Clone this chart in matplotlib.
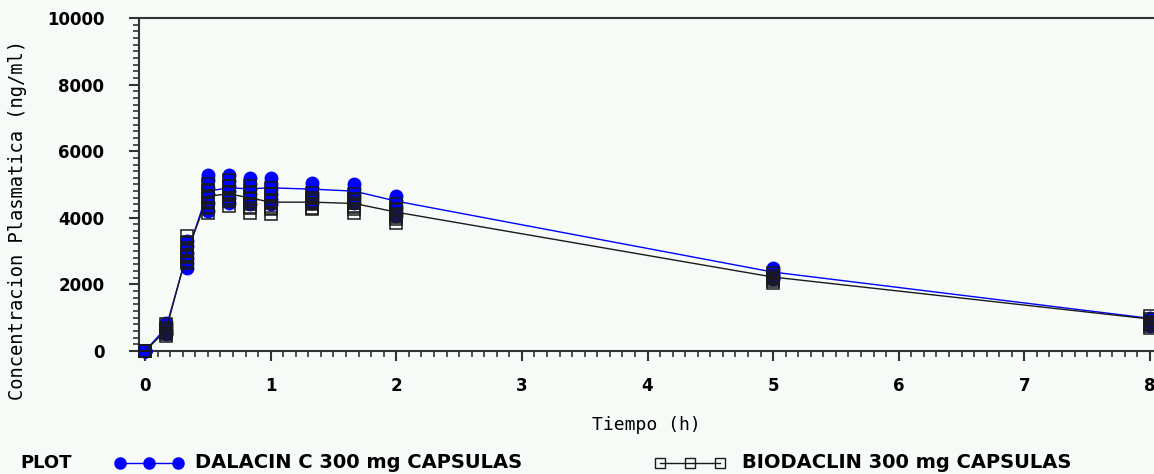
import matplotlib
matplotlib.use("Agg")
import matplotlib.pyplot as plt
from matplotlib.lines import Line2D
from matplotlib.ticker import MultipleLocator
import numpy as np

# sampling times (h)
times = [0, 0.167, 0.333, 0.5, 0.667, 0.833, 1, 1.333, 1.667, 2, 5, 8]

# individual concentrations (ng/ml), one list per time point
dalacin_ind = [
    [0, 0, 0, 0, 0, 0],
    [850, 750, 650, 600, 550, 500],
    [3300, 3150, 2950, 2800, 2650, 2500],
    [5300, 5150, 4900, 4700, 4450, 4200],
    [5300, 5100, 4950, 4800, 4600, 4450],
    [5200, 5000, 4850, 4700, 4550, 4400],
    [5200, 5000, 4850, 4700, 4550, 4400],
    [5050, 4900, 4750, 4650, 4550, 4450],
    [5000, 4850, 4750, 4650, 4550, 4450],
    [4650, 4500, 4350, 4250, 4150, 4050],
    [2500, 2400, 2300, 2250, 2200, 2150],
    [1000, 950, 900, 850, 800, 750],
]
biodaclin_ind = [
    [0, 0, 0, 0, 0, 0],
    [800, 700, 600, 550, 500, 450],
    [3450, 3250, 3000, 2850, 2700, 2650],
    [5000, 4800, 4600, 4450, 4300, 4150],
    [5150, 4950, 4750, 4600, 4500, 4350],
    [4950, 4750, 4550, 4400, 4300, 4150],
    [4900, 4700, 4500, 4350, 4250, 4100],
    [4750, 4600, 4500, 4400, 4300, 4250],
    [4700, 4550, 4450, 4350, 4250, 4150],
    [4400, 4250, 4100, 4050, 3950, 3850],
    [2350, 2250, 2200, 2150, 2100, 2050],
    [1050, 950, 850, 800, 750, 700],
]

# mean curves
dalacin_mean = [0, 700, 2900, 4800, 4900, 4870, 4900, 4860, 4800, 4500, 2370, 980]
biodaclin_mean = [0, 620, 2950, 4650, 4720, 4600, 4470, 4470, 4430, 4170, 2220, 960]

label_a = "DALACIN C 300 mg CAPSULAS"
label_b = "BIODACLIN 300 mg CAPSULAS"

bg = "#f6fbf8"
blue = "#0000ff"
dark = "#1a1a1a"

fig = plt.figure(figsize=(11.54, 4.74), dpi=100, facecolor=bg)
ax = fig.add_axes([139 / 1154, 123 / 474, 1 - 139 / 1154, 333 / 474])
ax.set_facecolor(bg)

# individual points
for t, vals in zip(times, dalacin_ind):
    ax.plot([t] * len(vals), vals, linestyle="none", marker="o", ms=9,
            mfc=blue, mec=blue, zorder=3, clip_on=False)
ax.plot(times, dalacin_mean, color=blue, lw=1.0, zorder=4, clip_on=False)

for t, vals in zip(times, biodaclin_ind):
    ax.plot([t] * len(vals), vals, linestyle="none", marker="s", ms=8.5,
            mfc="none", mec=dark, mew=1.1, zorder=5, clip_on=False)
    ax.plot([t] * len(vals), vals, linestyle="none", marker="_", ms=8.5,
            mec=dark, mew=1.1, zorder=5, clip_on=False)
ax.plot(times, biodaclin_mean, color=dark, lw=1.0, zorder=4, clip_on=False)

ax.set_xlim(-0.048, 8.032)
ax.set_ylim(0, 10000)

ax.xaxis.set_major_locator(MultipleLocator(1))
ax.xaxis.set_minor_locator(MultipleLocator(0.1))
ax.yaxis.set_major_locator(MultipleLocator(2000))
ax.yaxis.set_minor_locator(MultipleLocator(200))

for s in ["left", "bottom", "top"]:
    ax.spines[s].set_linewidth(1.5)
    ax.spines[s].set_color("#333333")
ax.spines["right"].set_visible(False)

ax.tick_params(axis="both", which="major", direction="out", length=7, width=1.5,
               color="#333333", labelsize=12)
ax.tick_params(axis="both", which="minor", direction="out", length=4, width=1.2,
               color="#333333")
ax.tick_params(axis="x", which="major", pad=12)
ax.tick_params(axis="y", which="major", pad=18)
for lab in ax.get_xticklabels() + ax.get_yticklabels():
    lab.set_fontweight("bold")
    lab.set_family("DejaVu Sans")

fig.text(0.5 * (139 + 1154) / 1154, 1 - 425 / 474, "Tiempo (h)",
         family="DejaVu Sans Mono", fontsize=13, ha="center", va="center")
fig.text(18 / 1154, 1 - 220 / 474, "Concentracion Plasmatica (ng/ml)",
         family="DejaVu Sans Mono", fontsize=13.5, rotation=90,
         ha="center", va="center")

# legend row
ly = 1 - 463 / 474
fig.text(20 / 1154, ly, "PLOT", fontsize=13, fontweight="bold",
         ha="left", va="center")
fig.add_artist(Line2D([120 / 1154, 178 / 1154], [ly, ly], color=blue, lw=1.0,
                      marker="o", ms=8, mfc=blue, mec=blue,
                      markevery=[0, 1], transform=fig.transFigure))
fig.add_artist(Line2D([149 / 1154], [ly], color=blue, marker="o", ms=8,
                      linestyle="none", transform=fig.transFigure))
fig.text(195 / 1154, ly, label_a, fontsize=14, fontweight="bold",
         ha="left", va="center")
fig.add_artist(Line2D([660 / 1154, 720 / 1154], [ly, ly], color=dark, lw=1.0,
                      marker="s", ms=7, mfc="none", mec=dark,
                      markevery=[0, 1], transform=fig.transFigure))
fig.add_artist(Line2D([690 / 1154], [ly], color=dark, marker="s", ms=7,
                      mfc="none", linestyle="none", transform=fig.transFigure))
fig.text(742 / 1154, ly, label_b, fontsize=14, fontweight="bold",
         ha="left", va="center")

fig.savefig("out.png", dpi=100, facecolor=bg)
